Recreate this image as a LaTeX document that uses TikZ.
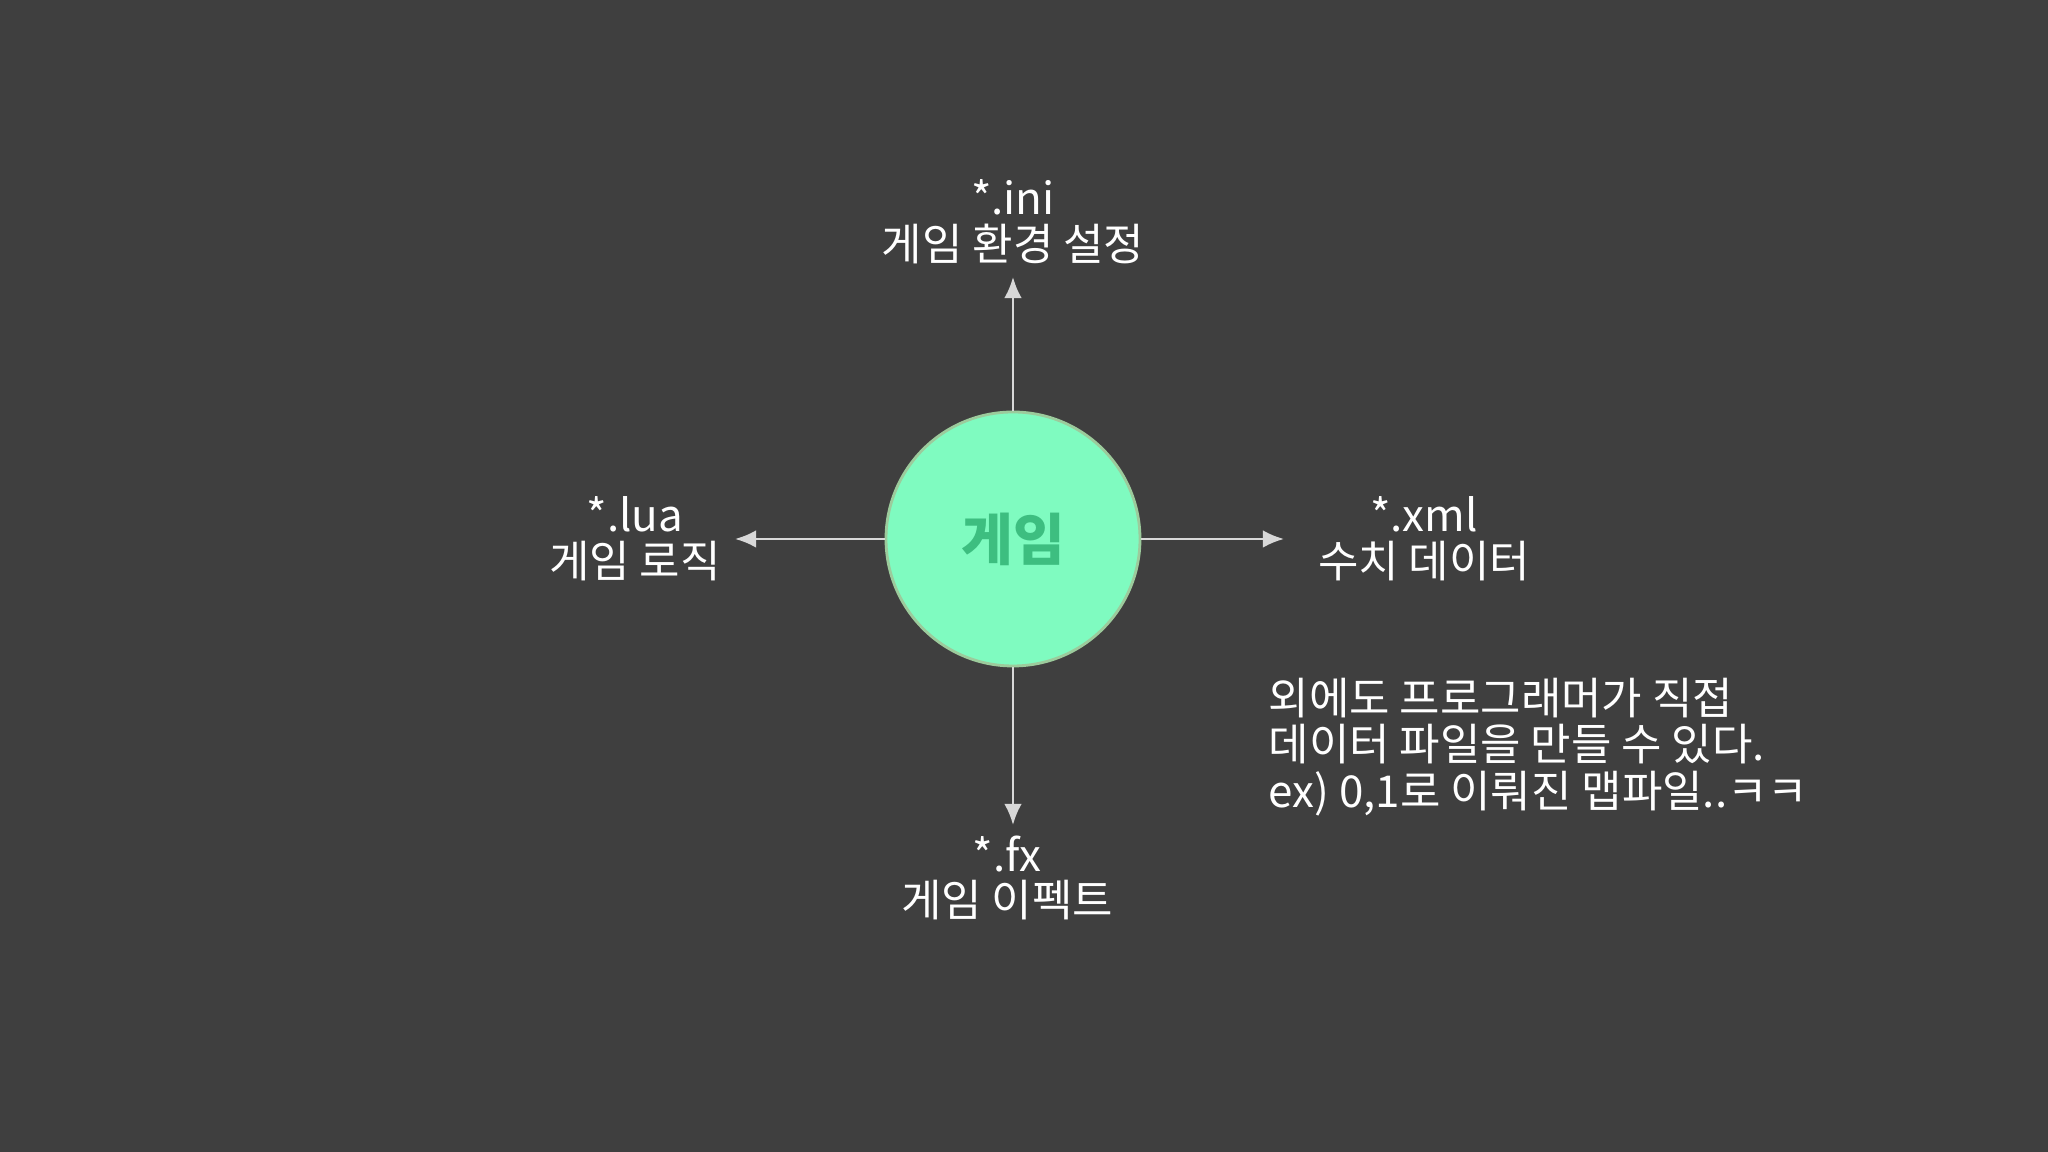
\documentclass[tikz,border=0pt]{standalone}
\usepackage{fontspec}
\setmainfont{Noto Sans CJK KR}
\usetikzlibrary{arrows.meta,positioning}
\definecolor{bgdark}{HTML}{3F3F3F}
\definecolor{mint}{HTML}{7FFBC0}
\definecolor{mintline}{HTML}{9CCB9C}
\definecolor{mintdark}{HTML}{3DBE80}
\definecolor{linegray}{HTML}{D8D8D8}
\begin{document}
\begin{tikzpicture}[
  font=\fontsize{12.5pt}{13pt}\selectfont,
  lbl/.style={text=white, align=center, inner sep=0pt},
  arr/.style={-{Latex[length=6pt,width=5pt]}, draw=linegray, line width=0.7pt}
]
  \fill[bgdark] (0,0) rectangle (20.48,11.52);
  \useasboundingbox (0,0) rectangle (20.48,11.52);

  \node[circle, fill=mint, draw=mintline, line width=0.8pt, minimum size=2.54cm,
        text=mintdark, font=\fontsize{16pt}{17pt}\selectfont\bfseries] (game) at (10.13,6.13) {게임};

  \coordinate (up) at (10.13,8.75);
  \coordinate (down) at (10.13,3.27);
  \coordinate (left) at (7.35,6.13);
  \coordinate (right) at (12.84,6.13);

  \draw[arr] (game) -- (up);
  \draw[arr] (game) -- (down);
  \draw[arr] (game) -- (left);
  \draw[arr] (game) -- (right);

  \node[lbl] (ini) at (10.13,9.30) {*.ini\\게임 환경 설정};
  \node[lbl] (lua) at (6.35,6.13) {*.lua\\게임 로직};
  \node[lbl] (xml) at (14.24,6.13) {*.xml\\수치 데이터};
  \node[lbl] (fx) at (10.07,2.74) {*.fx\\게임 이펙트};

  \node[lbl, align=left, anchor=west, font=\fontsize{12.5pt}{13.2pt}\selectfont] (note) at (12.68,4.05)
    {외에도 프로그래머가 직접\\데이터 파일을 만들 수 있다.\\ex) 0,1로 이뤄진 맵파일..ㅋㅋ};
\end{tikzpicture}
\end{document}
